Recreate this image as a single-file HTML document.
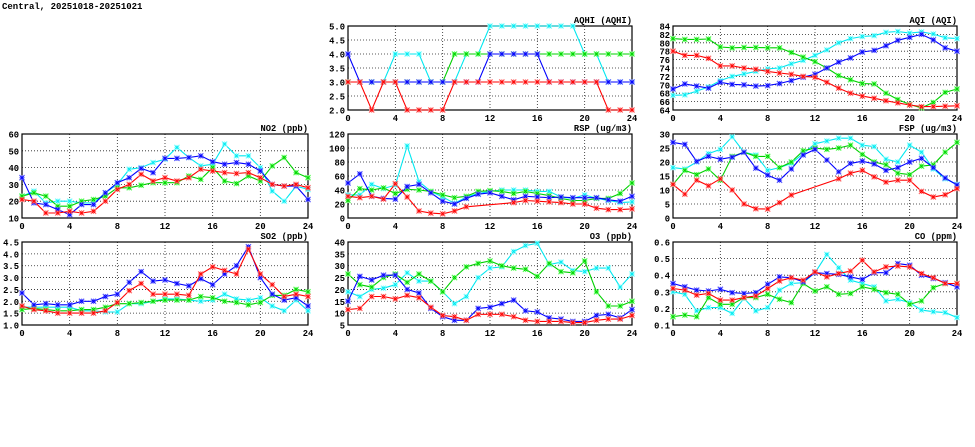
<!DOCTYPE html>
<html><head><meta charset="utf-8">
<style>
body{margin:0;background:#fff;width:975px;height:447px;overflow:hidden}
svg{display:block}
text{font-family:"Liberation Mono","DejaVu Sans Mono",monospace;font-size:8.8px;font-weight:bold;fill:#000}
</style></head>
<body>
<svg id="chart" width="975" height="447" xmlns="http://www.w3.org/2000/svg">
<text x="2" y="9" style="font-size:9px">Central, 20251018-20251021</text>
</svg>
<script>
const hours = [0,1,2,3,4,5,6,7,8,9,10,11,12,13,14,15,16,17,18,19,20,21,22,23,24];
const xTicks = [0,4,8,12,16,20,24];
const N = null;

const aqhiRed   = [3,3,2,3,3,2,2,2,2,3,3,3,3,3,3,3,3,3,3,3,3,3,2,2,2];
const aqhiGreen = [3,3,3,3,3,3,3,3,3,4,4,4,4,4,4,4,4,4,4,4,4,4,4,4,4];
const aqhiCyan  = [3,3,3,3,4,4,4,3,3,3,4,4,5,5,5,5,5,5,5,5,4,4,3,3,3];
const aqhiBlue  = [4,3,3,3,3,3,3,3,3,3,3,3,4,4,4,4,4,3,3,3,3,3,3,3,3];
const aqhiTicks = ["2.0","2.5","3.0","3.5","4.0","4.5","5.0"];

const aqiRed   = [78,77,77,76.3,74.5,74.5,74,73.7,73.2,72.8,72.5,72,71.8,70.6,69.2,68,67.3,66.8,66.2,65.7,65.2,64.8,64.8,64.9,65];
const aqiGreen = [81,80.8,80.8,80.9,79,78.8,78.9,78.9,78.8,78.8,77.7,76.6,75.5,74,72.2,71.2,70.3,70.2,68,66.5,65.3,64.5,65.8,68.2,69];
const aqiCyan  = [67.5,67.6,68.5,69.5,71,72,72.6,73.2,73.8,74,75,75.8,77,78.3,80,81,81.5,81.7,82.5,82.7,82.3,82.6,82.1,81.2,81];
const aqiBlue  = [69,70.2,69.7,69.2,70.6,70.1,70,69.7,69.8,70.3,71,71.8,72.5,74,75.4,76.4,77.8,78.2,79.3,80.6,81.3,82,80.7,78.8,78];
const aqiTicks = ["64","66","68","70","72","74","76","78","80","82","84"];

const no2Red   = [21,20,13,13,14,13,14,20,27,30,36,32,34,32,34,39,38,37,36.5,37,34,30,29,30,28];
const no2Green = [23,25,23,17,17,20,21,23,28,28,29.5,31,31,31,35,33,40,32,30.5,35,32,41,46,37,34];
const no2Cyan  = [23,26,19,20,20,19,19,25,30,39,40,43,45,52,46,41,42,54,47,47,40,26,20,29,27];
const no2Blue  = [34,19,18,15,12,18,18,25,31,34,39.5,37,45.5,45.5,46,47,43.5,42,43,42,38,30,29,29,21];
const no2Ticks = ["10","20","30","40","50","60"];

const rspRed   = [31,29,31,27,49,30,10,7,6,10,16,N,N,N,22,25,24,23,22,20,20,14,12,12,13];
const rspGreen = [25,42,40,43,35,41,40,38,33,29,31,38,39,38,35,38,35,32,28,25,25,28,28,35,50];
const rspCyan  = [33,33,48,42,47,103,52,38,30,21,30,35,38,40,40,40,38,38,30,28,33,28,25,22,23];
const rspBlue  = [50,63,31,28,27,45,48,36,24,20,28,34,36,31,26,31,30,29,30,29,29,29,26,24,31];
const rspTicks = ["0","20","40","60","80","100","120"];

const fspRed   = [12,8.5,13.5,11.5,14,10,5,3.3,3.2,5.5,8.2,N,N,N,14,16,17,14.7,12.8,13.5,13.5,9.5,7.5,8.3,10.5];
const fspGreen = [12,17,15.5,17.5,13.5,22,23.5,22,22,18,20,24,25,24.5,25,26,22.7,20,19,16,15.5,18.5,19,23.5,27];
const fspCyan  = [18,17.5,20,23,24.5,29,23.5,22.5,17,18,19.5,23,26.5,27.5,28.5,28.5,26,25.5,21,20,26,23.5,17.5,14,12];
const fspBlue  = [27,26.3,20.2,22,21,21.7,23.5,17.8,15.3,13.5,17.5,22.5,24.5,20.7,16.5,19.5,20.3,19.3,17,18,20,21.3,18,14.3,11.8];
const fspTicks = ["0","5","10","15","20","25","30"];

const so2Red   = [1.8,1.65,1.6,1.5,1.5,1.5,1.5,1.6,1.95,2.45,2.75,2.3,2.3,2.3,2.25,3.15,3.45,3.3,3.15,4.2,3.15,2.7,2.2,2.3,2.2];
const so2Green = [1.65,1.7,1.65,1.6,1.6,1.65,1.65,1.75,1.9,1.9,1.95,2.0,2.05,2.05,2.05,2.2,2.15,2.0,1.95,1.85,1.95,2.25,2.25,2.5,2.4];
const so2Cyan  = [1.75,1.75,1.75,1.75,1.75,1.6,1.6,1.55,1.55,1.9,1.9,2.0,2.1,2.1,2.05,2.0,2.05,2.3,2.1,2.05,2.15,1.8,1.6,2.05,1.6];
const so2Blue  = [2.35,1.85,1.9,1.85,1.85,2.0,2.0,2.2,2.3,2.8,3.25,2.85,2.9,2.75,2.65,2.95,2.7,3.15,3.5,4.3,3.0,2.3,2.05,2.15,1.8];
const so2Ticks = ["1.0","1.5","2.0","2.5","3.0","3.5","4.0","4.5"];

const o3Red   = [11.5,12,17,17,16,17.5,16.5,12.5,9,8.5,7,9.5,9.5,9.5,8.5,7,6.5,6.5,6.5,6,6,7,7.5,7.5,9];
const o3Green = [26.5,22,21,25,26.5,23,26.5,23.5,19,25,29.5,31,32,30,29,28.5,25.5,31,27.5,27,32,19,13,13,15];
const o3Cyan  = [19,17,20,20.5,22,27,23.5,23.5,19,14,17,25,29,29.5,36,38.5,39.5,30.5,31.5,28,27.5,29,29,21,26.5];
const o3Blue  = [15,25.5,24,26,26,20,18.5,12,8.5,7,7,12,12.5,14,15.5,11,10.5,8,7.5,6.5,6.5,9,9.5,8,11.5];
const o3Ticks = ["5","10","15","20","25","30","35","40"];

const coRed   = [.32,.31,.28,.29,.25,.25,.265,.275,.32,.365,.385,.37,.42,.39,.41,.425,.49,.42,.45,.455,.45,.41,.385,.35,.35];
const coGreen = [.15,.16,.15,.265,.225,.225,.265,.265,.285,.255,.235,.35,.305,.33,.285,.29,.33,.315,.295,.285,.225,.245,.325,.35,.35];
const coCyan  = [.3,.285,.185,.205,.205,.17,.26,.185,.205,.31,.35,.355,.415,.525,.445,.37,.35,.33,.245,.255,.235,.19,.18,.175,.145];
const coBlue  = [.35,.33,.31,.305,.315,.295,.29,.295,.345,.39,.385,.36,.415,.41,.405,.39,.375,.415,.415,.47,.46,.40,.38,.355,.33];
const coTicks = ["0.1","0.2","0.3","0.4","0.5","0.6"];

const NS = "http://www.w3.org/2000/svg";
const svg = document.getElementById('chart');
function mk(tag, attrs, parent){const e=document.createElementNS(NS,tag);for(const k in attrs)e.setAttribute(k,attrs[k]);(parent||svg).appendChild(e);return e;}

const colors = {cyan:["#00e8f0","#80ffff"],green:["#00d000","#60ff60"],blue:["#0000ff","#6060ff"],red:["#ff0000","#ff7070"]};

function panel(key, title, L, T, R, B, ticks, series){
  const g = mk('g',{});
  
  
  const ymin = parseFloat(ticks[0]), ymax = parseFloat(ticks[ticks.length-1]);
  const xs = h => L + (h/24)*(R-L);
  const ys = v => B - (v-ymin)/(ymax-ymin)*(B-T);
  ticks.forEach((t,i)=>{
    const y = ys(parseFloat(t));
    if(i>0 && i<ticks.length-1){
      const gl = mk('line',{x1:L,x2:R,y1:y,y2:y,stroke:'#222','stroke-width':0.8,'stroke-dasharray':'1,2'},g);
      
      
    }
    const tl = mk('text',{x:L-3,y:y+3.5,'text-anchor':'end'},g);
    tl.textContent = t;
    
    
  });
  xTicks.forEach((t,i)=>{
    const x = xs(t);
    if(i>0 && i<xTicks.length-1){
      const gl = mk('line',{x1:x,x2:x,y1:T,y2:B,stroke:'#222','stroke-width':0.8,'stroke-dasharray':'1,2'},g);
      
      
    }
    const tl = mk('text',{x:x,y:B+11,'text-anchor':'middle'},g);
    tl.textContent = t;
    
    
  });
  const fr = mk('rect',{x:L,y:T,width:R-L,height:B-T,fill:'none',stroke:'#000','stroke-width':1.2},g);
  
  
  const tt = mk('text',{x:R,y:T-3,'text-anchor':'end'},g);
  tt.textContent = title;
  
  
  series.forEach(([cname, vals])=>{
    const [lc, mc] = colors[cname];
    const pts = [];
    vals.forEach((v,i)=>{ if(v!==null) pts.push([xs(hours[i]), ys(v)]); });
    const pl = mk('polyline',{points:pts.map(p=>p[0].toFixed(1)+','+p[1].toFixed(1)).join(' '),fill:'none',stroke:lc,'stroke-width':1.1},g);
    
    
    pts.forEach(([x,y])=>{
      const s = 2.6;
      const m = mk('path',{d:`M${x-s},${y-s}L${x+s},${y+s}M${x-s},${y+s}L${x+s},${y-s}M${x-s},${y}L${x+s},${y}M${x},${y-s}L${x},${y+s}`,stroke:mc,'stroke-width':1.2,fill:'none'},g);
      
      
      const c = mk('path',{d:`M${x-1.5},${y-1.5}L${x+1.5},${y+1.5}M${x-1.5},${y+1.5}L${x+1.5},${y-1.5}`,stroke:lc,'stroke-width':1,fill:'none'},g);
      
      
    });
  });
}
const C1=[22,308], C2=[348,632], C3=[673,957];
const R1=[26,110], R2=[134,218], R3=[242,325];
function S(r,g,c,b){return [['cyan',c],['green',g],['blue',b],['red',r]];}
panel('aqhi','AQHI (AQHI)',C2[0],R1[0],C2[1],R1[1],aqhiTicks,S(aqhiRed,aqhiGreen,aqhiCyan,aqhiBlue));
panel('aqi','AQI (AQI)',C3[0],R1[0],C3[1],R1[1],aqiTicks,S(aqiRed,aqiGreen,aqiCyan,aqiBlue));
panel('no2','NO2 (ppb)',C1[0],R2[0],C1[1],R2[1],no2Ticks,S(no2Red,no2Green,no2Cyan,no2Blue));
panel('rsp','RSP (ug/m3)',C2[0],R2[0],C2[1],R2[1],rspTicks,S(rspRed,rspGreen,rspCyan,rspBlue));
panel('fsp','FSP (ug/m3)',C3[0],R2[0],C3[1],R2[1],fspTicks,S(fspRed,fspGreen,fspCyan,fspBlue));
panel('so2','SO2 (ppb)',C1[0],R3[0],C1[1],R3[1],so2Ticks,S(so2Red,so2Green,so2Cyan,so2Blue));
panel('o3','O3 (ppb)',C2[0],R3[0],C2[1],R3[1],o3Ticks,S(o3Red,o3Green,o3Cyan,o3Blue));
panel('co','CO (ppm)',C3[0],R3[0],C3[1],R3[1],coTicks,S(coRed,coGreen,coCyan,coBlue));
</script>
</body></html>
